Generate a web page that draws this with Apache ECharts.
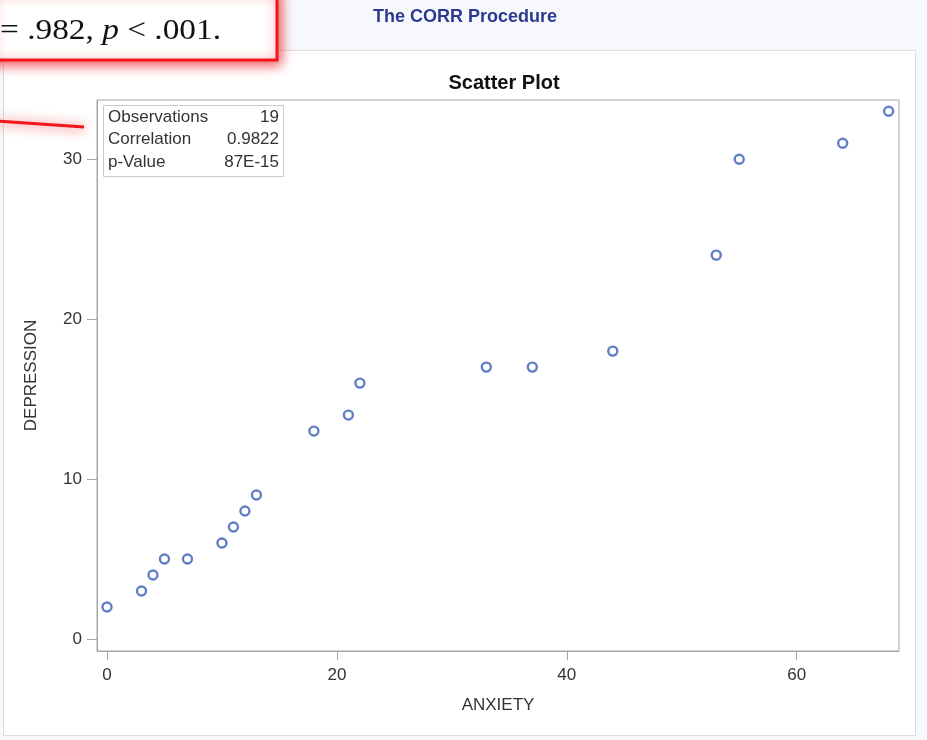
<!DOCTYPE html>
<html>
<head>
<meta charset="utf-8">
<script src="https://cdn.jsdelivr.net/npm/echarts@6/dist/echarts.min.js"></script>
<style>
  html, body { margin: 0; padding: 0; background: #f7f8fc; }
  #chart { width: 927px; height: 740px; }
</style>
</head>
<body>
<div id="chart"></div>
<script>
// ANXIETY vs DEPRESSION scores, one entry per observation
const anxiety    = [0, 3, 4, 5, 7, 10, 11, 12, 13, 18, 21, 22, 33, 37, 44, 53, 55, 64, 68];
const depression = [2, 3, 4, 5, 5, 6, 7, 8, 9, 13, 14, 16, 17, 17, 18, 24, 30, 31, 33];

// Axis tick values
const xTicks = [0, 20, 40, 60];
const yTicks = [0, 10, 20, 30];

// Statistics inset rows
const statNames  = ['Observations', 'Correlation', 'p-Value'];
const statValues = ['19', '0.9822', '87E-15'];

const points = anxiety.map((a, i) => [a, depression[i]]);

const chart = echarts.init(document.getElementById('chart'), null, { renderer: 'canvas' });

const sans = '"Liberation Sans", Arial, sans-serif';
const axisGray = '#a3a6ab';
const labelColor = '#333333';

const statTexts = [];
statNames.forEach((name, i) => {
  const y = 117 + i * 22.5;
  statTexts.push({
    type: 'text', z: 4,
    style: { x: 108, y: y, text: name, font: '17px ' + sans, fill: '#333333', verticalAlign: 'middle' }
  });
  statTexts.push({
    type: 'text', z: 4,
    style: { x: 279, y: y, text: statValues[i], font: '17px ' + sans, fill: '#333333',
             align: 'right', verticalAlign: 'middle' }
  });
});

chart.setOption({
  animation: false,
  backgroundColor: '#f7f8fc',
  title: [
    {
      text: 'The CORR Procedure',
      left: 460, top: 3, textAlign: 'center',
      textStyle: { fontFamily: sans, fontSize: 18, fontWeight: 'bold', color: '#2b3990' }
    },
    {
      text: 'Scatter Plot',
      left: 499, top: 68, textAlign: 'center',
      textStyle: { fontFamily: sans, fontSize: 20, fontWeight: 'bold', color: '#111111' }
    }
  ],
  grid: {
    left: 97, right: 28, top: 100, bottom: 89,
    show: true, borderColor: axisGray, borderWidth: 1, backgroundColor: 'transparent'
  },
  xAxis: {
    type: 'value', min: -0.87, max: 68.9,
    name: 'ANXIETY', nameLocation: 'middle', nameGap: 46,
    nameTextStyle: { fontFamily: sans, fontSize: 17, color: labelColor },
    axisLine: { show: true, onZero: false, lineStyle: { color: axisGray } },
    axisTick: { show: true, length: 9, customValues: xTicks, lineStyle: { color: axisGray } },
    axisLabel: { customValues: xTicks, margin: 16, fontFamily: sans, fontSize: 17, color: labelColor },
    splitLine: { show: false }
  },
  yAxis: {
    type: 'value', min: -0.75, max: 33.7,
    name: 'DEPRESSION', nameLocation: 'middle', nameGap: 57, nameRotate: 90,
    nameTextStyle: { fontFamily: sans, fontSize: 17, color: labelColor },
    axisLine: { show: true, onZero: false, lineStyle: { color: axisGray } },
    axisTick: { show: true, length: 10, customValues: yTicks, lineStyle: { color: axisGray } },
    axisLabel: { customValues: yTicks, margin: 15, fontFamily: sans, fontSize: 17, color: labelColor },
    splitLine: { show: false }
  },
  series: [{
    type: 'scatter',
    data: points,
    symbol: 'circle',
    symbolSize: 9,
    itemStyle: { color: '#ffffff', borderColor: '#3a5fbb', borderWidth: 2.4 },
    emphasis: { disabled: true },
    z: 5
  }],
  graphic: [
    // white output panel
    {
      type: 'rect', z: -10,
      shape: { x: 3.5, y: 50.5, width: 912, height: 685 },
      style: { fill: '#ffffff', stroke: '#d9dce2', lineWidth: 1 }
    },
    // statistics inset
    {
      type: 'rect', z: 3,
      shape: { x: 103.5, y: 105.5, width: 180, height: 71 },
      style: { fill: '#ffffff', stroke: '#c8cacf', lineWidth: 1 }
    },
    ...statTexts,
    // highlighted result box
    {
      type: 'rect', z: 20,
      shape: { x: -10, y: -10, width: 287, height: 70 },
      style: {
        fill: '#ffffff', stroke: '#f0161c', lineWidth: 3,
        shadowBlur: 12, shadowColor: 'rgba(240,30,35,0.8)', shadowOffsetX: 2, shadowOffsetY: 3
      }
    },
    {
      type: 'text', z: 21, x: 0, y: 0, scaleX: 1.15,
      style: {
        x: 0, y: 31,
        text: '= .982, {i|p} < .001.',
        font: '29px "Liberation Serif", "Times New Roman", serif',
        fill: '#111111',
        verticalAlign: 'middle',
        rich: { i: { fontStyle: 'italic', fontFamily: '"Liberation Serif", serif', fontSize: 29 } }
      }
    },
    // pointer stroke
    {
      type: 'line', z: 20,
      shape: { x1: -2, y1: 121, x2: 84, y2: 127 },
      style: {
        stroke: '#f0161c', lineWidth: 3,
        shadowBlur: 12, shadowColor: 'rgba(240,30,35,0.85)', shadowOffsetY: 1
      }
    }
  ]
});
</script>
</body>
</html>
